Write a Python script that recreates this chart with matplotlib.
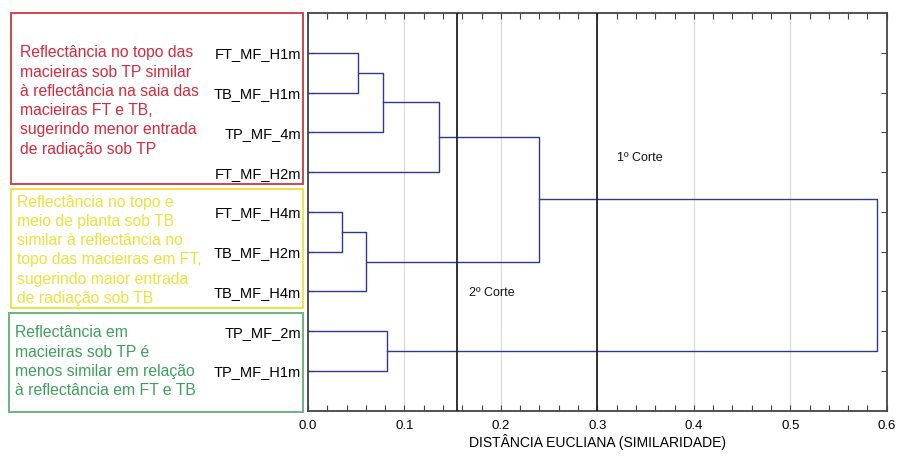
import matplotlib as mpl
mpl.use('Agg')
import matplotlib.pyplot as plt
from matplotlib.patches import Rectangle
from matplotlib.ticker import MultipleLocator

plt.rcParams['font.family'] = ['Liberation Sans', 'DejaVu Sans']

# leaves, top to bottom
labels = ["FT_MF_H1m", "TB_MF_H1m", "TP_MF_4m", "FT_MF_H2m", "FT_MF_H4m",
          "TB_MF_H2m", "TB_MF_H4m", "TP_MF_2m", "TP_MF_H1m"]

# joins: node ids >= len(labels) are earlier joins
join_a = [0, 4, 9, 10, 7, 11, 14, 15]
join_b = [1, 5, 2, 6, 8, 3, 12, 13]
join_dist = [0.052, 0.035, 0.0775, 0.060, 0.082, 0.1355, 0.239, 0.590]

cut_1 = 0.30
cut_2 = 0.154

box_texts = ["Reflectância no topo das\nmacieiras sob TP similar\nà reflectância na saia das\nmacieiras FT e TB,\nsugerindo menor entrada\nde radiação sob TP",
             "Reflectância no topo e\nmeio de planta sob TB\nsimilar à reflectância no\ntopo das macieiras em FT,\nsugerindo maior entrada\nde radiação sob TB",
             "Reflectância em\nmacieiras sob TP é\nmenos similar em relação\nà reflectância em FT e TB"]

W, H = 897, 459
fig = plt.figure(figsize=(W / 100, H / 100), dpi=100)
ax = fig.add_axes([308 / W, 1 - 410.7 / H, (886.7 - 308) / W, (410.7 - 13) / H])

line_col = '#2e3a8c'
pos = {i: (0.0, i + 1) for i in range(len(labels))}
for k in range(len(join_a)):
    xa, ya = pos[join_a[k]]
    xb, yb = pos[join_b[k]]
    d = join_dist[k]
    ax.plot([xa, d, d, xb], [ya, ya, yb, yb], color=line_col, lw=1.0, zorder=3)
    pos[len(labels) + k] = (d, (ya + yb) / 2)

ax.axvline(cut_1, color='#222222', lw=1.3, zorder=4)
ax.axvline(cut_2, color='#222222', lw=1.3, zorder=4)
ax.text(0.320, 3.65, "1º Corte", fontsize=9, va='center', color='#111111')
ax.text(0.167, 7.05, "2º Corte", fontsize=9, va='center', color='#111111')

ax.set_xlim(0, 0.6)
ax.set_ylim(10, 0)
ax.xaxis.set_minor_locator(MultipleLocator(0.02))
ax.set_xticks([0, 0.1, 0.2, 0.3, 0.4, 0.5, 0.6])
ax.set_xticklabels(["0.0", "0.1", "0.2", "0.3", "0.4", "0.5", "0.6"], fontsize=9.5)
ax.set_yticks(range(1, len(labels) + 1))
ax.set_yticklabels(labels, fontsize=10.5)
ax.tick_params(axis='both', which='both', direction='in', top=True, right=True,
               color='#444444', length=4, width=0.8)
ax.tick_params(axis='x', pad=7)
ax.tick_params(axis='y', pad=5)
ax.grid(axis='x', which='major', color='#d8d8d8', lw=0.8)
ax.set_axisbelow(True)
for s in ax.spines.values():
    s.set_color('#444444')
    s.set_linewidth(1.3)
ax.set_xlabel("DISTÂNCIA EUCLIANA (SIMILARIDADE)", fontsize=10, labelpad=1)

# annotation boxes on the left
boxes = [(11, 13.3, 302.7, 184.0, '#c83840', '#d42a3c', 20, 51.7),
         (11, 189.3, 302.7, 308.3, '#ece23a', '#ece23a', 17, 201.0),
         (9, 313.3, 303.0, 411.7, '#5fae78', '#3f9e5c', 15, 331.7)]
for (x0, y0, x1, y1, ec, tc, tx, ty), txt in zip(boxes, box_texts):
    fig.add_artist(Rectangle((x0 / W, 1 - y1 / H), (x1 - x0) / W, (y1 - y0) / H,
                             transform=fig.transFigure, fill=False, ec=ec, lw=1.3))
    fig.text(tx / W, 1 - (ty - 6.5) / H, txt, color=tc, fontsize=11.3, va='top', ha='left',
             linespacing=1.36)

fig.savefig("out.png", dpi=100)
